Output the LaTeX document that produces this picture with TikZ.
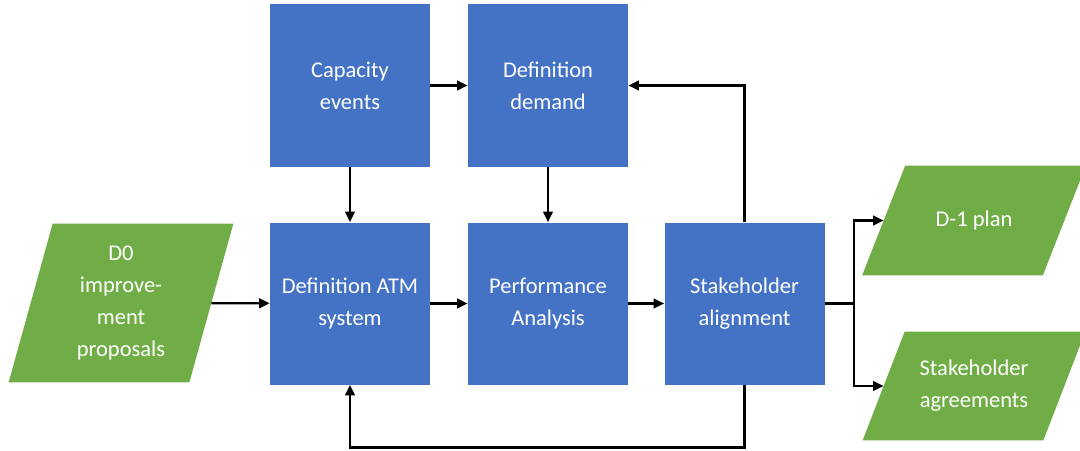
\documentclass[tikz,border=0pt]{standalone}
\usepackage{fontspec}
\setmainfont{Carlito}
\usetikzlibrary{arrows.meta,calc,backgrounds}
\definecolor{boxblue}{HTML}{4472C4}
\definecolor{datagreen}{HTML}{70AD47}
\tikzset{
	block/.style={rectangle, fill=boxblue, text=white, align=center,
		minimum width=3.2cm, minimum height=3.24cm,
		font=\fontsize{12.8}{18.2}\selectfont},
	iodata/.style={rectangle, text=white, align=center, inner sep=0pt,
		minimum width=3.6cm,
		font=\fontsize{12.8}{18.2}\selectfont},
	link/.style={-{Triangle[length=6pt,width=5.5pt]}, line width=1.2pt}
}

\begin{document}
\begin{tikzpicture}

	\useasboundingbox (0,0) rectangle (21.6,9);

	\node[block] (cap) at (7.0,7.29) {Capacity\\events};
	\node[block] (dem) at (10.96,7.29) {Definition\\demand};
	\node[block] (atm) at (7.0,2.93) {Definition ATM\\system};
	\node[block] (perf) at (10.96,2.93) {Performance\\Analysis};
	\node[block] (stake) at (14.89,2.93) {Stakeholder\\alignment};

	\node[iodata, minimum height=3.16cm] (dzero) at (2.42,2.94)
		{D0\\improve-\\ment\\proposals};
	\node[iodata, minimum height=2.18cm] (plan) at (19.48,4.59) {D-1 plan};
	\node[iodata, minimum height=2.16cm] (agree) at (19.48,1.28)
		{Stakeholder\\agreements};

	\begin{scope}[on background layer]
		\fill[datagreen] ($(dzero.south west)+(-0.44,0)$) -- ($(dzero.south east)+(-0.44,0)$)
			-- ($(dzero.north east)+(0.44,0)$) -- ($(dzero.north west)+(0.44,0)$) -- cycle;
		\fill[datagreen] ($(plan.south west)+(-0.43,0)$) -- ($(plan.south east)+(-0.43,0)$)
			-- ($(plan.north east)+(0.43,0)$) -- ($(plan.north west)+(0.43,0)$) -- cycle;
		\fill[datagreen] ($(agree.south west)+(-0.42,0)$) -- ($(agree.south east)+(-0.42,0)$)
			-- ($(agree.north east)+(0.42,0)$) -- ($(agree.north west)+(0.42,0)$) -- cycle;
	\end{scope}

	\coordinate (split) at (17.08,2.93);
	\coordinate (bottom) at (0,0.05);

	\draw[link] (dzero) -- (atm);
	\draw[link] (cap) -- (dem);
	\draw[link] (cap) -- (atm);
	\draw[link] (dem) -- (perf);
	\draw[link] (atm) -- (perf);
	\draw[link] (perf) -- (stake);
	\draw[link] (stake.north) |- (dem.east);
	\draw[link] (stake.south) -- (stake.south |- bottom) -| (atm.south);

	\draw[line width=1.2pt] (stake) -- (split);
	\draw[link] (split) |- (plan.west);
	\draw[link] (split) |- (agree.west);

\end{tikzpicture}
\end{document}
